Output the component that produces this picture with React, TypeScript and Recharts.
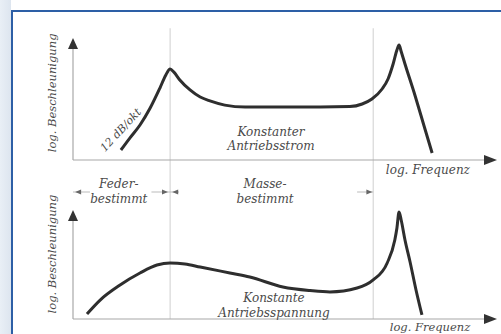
import React from "react";
import { LineChart, Line, XAxis, YAxis, ReferenceLine, ReferenceDot } from "recharts";

// log. frequency (0..100 = axis arrow tip) and log. acceleration (0..100 = y arrow tip)
const topFreq = [11.3, 13.4, 15.8, 18.2, 20.5, 21.9, 22.9, 23.8, 25.2, 27.6, 30, 32.3, 35.8, 40.6, 48.8, 58.3, 65.3, 68.2, 70.5, 72.9, 74.3, 75.5, 76.4, 76.9, 77.4, 78.3, 80.7, 82.8, 84.7];
const topAccel = [8.2, 18, 28.7, 42.6, 59, 69.7, 74.6, 72, 65.6, 57.4, 51.6, 48.4, 45, 43.4, 43.4, 43.4, 43.8, 45.9, 50, 58.2, 66.4, 78.7, 90.2, 94.3, 88.9, 78.7, 52.5, 27.9, 5.7];

const bottomFreq = [3.3, 6.4, 11.1, 15.8, 19.8, 22.9, 26.4, 30, 37, 41.7, 49.5, 55.9, 60.6, 67, 70.8, 74.1, 75.9, 76.4, 76.9, 77.4, 78.3, 79.5, 80.9, 82.3];
const bottomAccel = [4.6, 17.4, 31.2, 42.2, 49.5, 51.4, 50.5, 47.7, 42.2, 38.5, 29.4, 26.1, 24.8, 28.4, 35.8, 51.4, 72.5, 83.5, 98.2, 90.8, 72.5, 52.3, 26.6, 3.7];

// region boundaries (resonance frequencies)
const boundaries = [22.9, 70.8];

const yTitle = "log. Beschleunigung";
const xTitle = "log. Frequenz";
const slopeLabel = "12 dB/okt";
const topNote = ["Konstanter", "Antriebsstrom"];
const bottomNote = ["Konstante", "Antriebsspannung"];
const regions = [["Feder-", "bestimmt"], ["Masse-", "bestimmt"]];

const topData = topFreq.map((x, i) => ({ x, y: topAccel[i] }));
const bottomData = bottomFreq.map((x, i) => ({ x, y: bottomAccel[i] }));

const FONT = "'DejaVu Serif', serif";
const INK = "#2e2e2e";
const TXT = "#4a4a4a";
const AXIS = "#a8a8a8";

const textShape =
  (value: string, opts: { rotate?: number; size?: number } = {}) =>
  (p: any) => (
    <text
      x={p.cx}
      y={p.cy}
      textAnchor="middle"
      dominantBaseline="central"
      fontFamily={FONT}
      fontStyle="italic"
      fontSize={opts.size ?? 12}
      fill={TXT}
      transform={opts.rotate ? `rotate(${opts.rotate} ${p.cx} ${p.cy})` : undefined}
    >
      {value}
    </text>
  );

const arrowRight = (p: any) => (
  <polygon points={`${p.cx},${p.cy} ${p.cx - 13},${p.cy - 5} ${p.cx - 13},${p.cy + 5}`} fill="#333" />
);
const arrowUp = (p: any) => (
  <polygon points={`${p.cx},${p.cy} ${p.cx - 5},${p.cy + 11} ${p.cx + 5},${p.cy + 11}`} fill="#333" />
);
const smallRight = (p: any) => (
  <polygon points={`${p.cx},${p.cy} ${p.cx - 6},${p.cy - 2.5} ${p.cx - 6},${p.cy + 2.5}`} fill="#666" />
);
const smallLeft = (p: any) => (
  <polygon points={`${p.cx},${p.cy} ${p.cx + 6},${p.cy - 2.5} ${p.cx + 6},${p.cy + 2.5}`} fill="#666" />
);

function Axes({ yTop, arrowBaseX }: { yTop: number; arrowBaseX: number }) {
  return (
    <>
      <ReferenceLine segment={[{ x: 0, y: 0 }, { x: arrowBaseX, y: 0 }]} stroke={AXIS} strokeWidth={1.2} ifOverflow="visible" />
      <ReferenceLine segment={[{ x: 0, y: 0 }, { x: 0, y: yTop }]} stroke={AXIS} strokeWidth={1.2} ifOverflow="visible" />
      <ReferenceDot x={100} y={0} shape={arrowRight} ifOverflow="visible" />
      <ReferenceDot x={0} y={100} shape={arrowUp} ifOverflow="visible" />
    </>
  );
}

export default function App() {
  return (
    <div style={{ position: "absolute", left: 0, top: 0, width: 501, height: 334, overflow: "hidden", background: "#fff" }}>
      <div style={{ position: "absolute", left: 0, top: 0, width: 11, height: 334, background: "linear-gradient(90deg, #e9eff6, #dde5ef)" }} />
      <div style={{ position: "absolute", left: 11, top: 10, width: 520, height: 340, borderLeft: "2px solid #2d5fa6", borderTop: "2px solid #2d5fa6" }} />

      <div style={{ position: "absolute", left: 0, top: 0 }}>
        <LineChart width={501} height={178} data={topData} margin={{ top: 38, right: 4, bottom: 18, left: 73 }}>
          <XAxis type="number" dataKey="x" domain={[0, 100]} hide />
          <YAxis type="number" domain={[0, 100]} hide />
          {boundaries.map((b) => (
            <ReferenceLine key={b} segment={[{ x: b, y: 108 }, { x: b, y: -15 }]} stroke="#cfcfcf" strokeWidth={1} ifOverflow="visible" />
          ))}
          <Axes yTop={91} arrowBaseX={97} />
          <Line type="monotone" dataKey="y" stroke={INK} strokeWidth={3} dot={false} isAnimationActive={false} />
          <ReferenceDot x={-5} y={55} shape={textShape(yTitle, { rotate: -90, size: 11.5 })} ifOverflow="visible" />
          <ReferenceDot x={83.7} y={-8.2} shape={textShape(xTitle)} ifOverflow="visible" />
          <ReferenceDot x={11.3} y={24.6} shape={textShape(slopeLabel, { rotate: -47, size: 11 })} ifOverflow="visible" />
          <ReferenceDot x={46.7} y={23} shape={textShape(topNote[0])} ifOverflow="visible" />
          <ReferenceDot x={46.7} y={11.5} shape={textShape(topNote[1])} ifOverflow="visible" />
        </LineChart>
      </div>

      <div style={{ position: "absolute", left: 0, top: 178 }}>
        <LineChart width={501} height={156} data={bottomData} margin={{ top: 32, right: 4, bottom: 15, left: 73 }}>
          <XAxis type="number" dataKey="x" domain={[0, 100]} hide />
          <YAxis type="number" domain={[0, 100]} hide />
          {boundaries.map((b) => (
            <ReferenceLine key={b} segment={[{ x: b, y: 130 }, { x: b, y: 0 }]} stroke="#cfcfcf" strokeWidth={1} ifOverflow="visible" />
          ))}
          <Axes yTop={90} arrowBaseX={97} />
          <ReferenceLine segment={[{ x: 0, y: 116.5 }, { x: 4, y: 116.5 }]} stroke="#bbb" ifOverflow="visible" />
          <ReferenceLine segment={[{ x: 18.5, y: 116.5 }, { x: 25, y: 116.5 }]} stroke="#bbb" ifOverflow="visible" />
          <ReferenceLine segment={[{ x: 67, y: 116.5 }, { x: 70.8, y: 116.5 }]} stroke="#bbb" ifOverflow="visible" />
          <ReferenceDot x={0.5} y={116.5} shape={smallLeft} ifOverflow="visible" />
          <ReferenceDot x={22.4} y={116.5} shape={smallRight} ifOverflow="visible" />
          <ReferenceDot x={23.4} y={116.5} shape={smallLeft} ifOverflow="visible" />
          <ReferenceDot x={70.6} y={116.5} shape={smallRight} ifOverflow="visible" />
          <Line type="monotone" dataKey="y" stroke={INK} strokeWidth={3} dot={false} isAnimationActive={false} />
          <ReferenceDot x={-5} y={59.6} shape={textShape(yTitle, { rotate: -90, size: 11.5 })} ifOverflow="visible" />
          <ReferenceDot x={84.2} y={-7.4} shape={textShape(xTitle, { size: 11.5 })} ifOverflow="visible" />
          <ReferenceDot x={10.8} y={123.9} shape={textShape(regions[0][0])} ifOverflow="visible" />
          <ReferenceDot x={10.8} y={110.1} shape={textShape(regions[0][1])} ifOverflow="visible" />
          <ReferenceDot x={45.3} y={123.9} shape={textShape(regions[1][0])} ifOverflow="visible" />
          <ReferenceDot x={45.3} y={110.1} shape={textShape(regions[1][1])} ifOverflow="visible" />
          <ReferenceDot x={47.4} y={19.3} shape={textShape(bottomNote[0])} ifOverflow="visible" />
          <ReferenceDot x={47.4} y={5.5} shape={textShape(bottomNote[1])} ifOverflow="visible" />
        </LineChart>
      </div>
    </div>
  );
}
